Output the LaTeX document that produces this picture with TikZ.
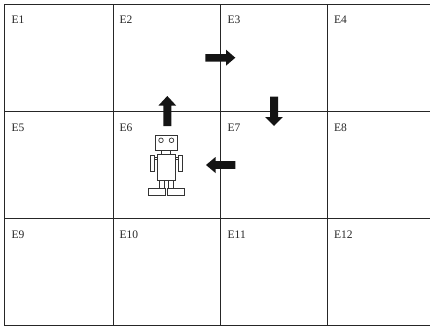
\documentclass[tikz,border=0pt]{standalone}
\usepackage{fontspec}
\setmainfont{Liberation Serif}
\begin{document}
\begin{tikzpicture}[x=1pt,y=-1pt,
  gridline/.style={line width=0.9pt,draw=black!85},
  celllabel/.style={anchor=base west,inner sep=0pt,font=\fontsize{11.5}{12}\selectfont,text=black!85},
  blockarrow/.style={fill=black!92,draw=none},
  robotpart/.style={draw=black!80,line width=0.7pt,fill=white}]
\useasboundingbox (0,0) rectangle (430,327);
\fill[white] (0,0) rectangle (430,327);
% grid
\draw[gridline] (430,4) -- (4,4) -- (4,325) -- (430,325);
\draw[gridline] (4,111) -- (430,111);
\draw[gridline] (4,218.5) -- (430,218.5);
\draw[gridline] (113,4) -- (113,325);
\draw[gridline] (220.7,4) -- (220.7,325);
\draw[gridline] (327.3,4) -- (327.3,325);
% labels
\node[celllabel] (e1) at (11.5,23.5) {E1};
\node[celllabel] (e2) at (119.5,23.5) {E2};
\node[celllabel] (e3) at (227.5,23.5) {E3};
\node[celllabel] (e4) at (334,23.5) {E4};
\node[celllabel] (e5) at (11.5,131) {E5};
\node[celllabel] (e6) at (119.5,131) {E6};
\node[celllabel] (e7) at (227.5,131) {E7};
\node[celllabel] (e8) at (334,131) {E8};
\node[celllabel] (e9) at (11.5,238.5) {E9};
\node[celllabel] (e10) at (119.5,238.5) {E10};
\node[celllabel] (e11) at (227.5,238.5) {E11};
\node[celllabel] (e12) at (334,238.5) {E12};
% arrows
% right
\fill[blockarrow] (205.3,54) -- (226,54) -- (226,49.7) -- (235.3,57.7) -- (226,65.7) -- (226,61.5) -- (205.3,61.5) -- cycle;
% up
\fill[blockarrow] (163.3,126) -- (163.3,105.5) -- (158.5,105.5) -- (167.3,96) -- (176.1,105.5) -- (171.3,105.5) -- (171.3,126) -- cycle;
% down
\fill[blockarrow] (270,96.7) -- (270,117) -- (265.2,117) -- (274,126) -- (282.8,117) -- (278,117) -- (278,96.7) -- cycle;
% left
\fill[blockarrow] (235.3,161.2) -- (215.5,161.2) -- (215.5,157) -- (206,165) -- (215.5,173) -- (215.5,168.8) -- (235.3,168.8) -- cycle;
% robot
\draw[robotpart] (154.3,157) rectangle (157.3,159.5);
\draw[robotpart] (175.7,157) rectangle (178.3,159.5);
\draw[robotpart] (150,155.3) rectangle (154.3,171.7);
\draw[robotpart] (178.3,155.3) rectangle (182.7,171.7);
\draw[robotpart] (161.7,150.3) rectangle (170.7,154.3);
\draw[robotpart] (155.3,135.3) rectangle (177,150.3);
\draw[robotpart] (161,140.3) circle (2.3);
\draw[robotpart] (171.5,140.3) circle (2.3);
\draw[robotpart] (157.3,154.3) rectangle (175.7,180.3);
\draw[robotpart] (159,180.3) rectangle (164,188);
\draw[robotpart] (168.5,180.3) rectangle (173.5,188);
\draw[robotpart] (148.7,188) rectangle (165.3,195.3);
\draw[robotpart] (167.3,188) rectangle (184,195.3);
\end{tikzpicture}
\end{document}
